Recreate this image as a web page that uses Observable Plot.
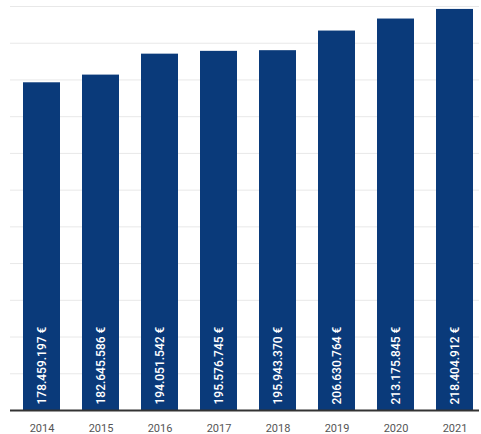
<!DOCTYPE html>
<html><head><meta charset="utf-8">
<script src="https://cdn.jsdelivr.net/npm/d3@7"></script>
<script src="https://cdn.jsdelivr.net/npm/@observablehq/plot@0.6"></script>
<style>body{margin:0;background:#fff;font-family:Roboto,"Noto Sans",sans-serif;}</style>
</head><body><div id="chart"></div>
<script>
const years = ["2014","2015","2016","2017","2018","2019","2020","2021"];
const values = [178459197,182645586,194051542,195576745,195943370,206630764,213175845,218404912];
const labels = ["178.459.197 €","182.645.586 €","194.051.542 €","195.576.745 €","195.943.370 €","206.630.764 €","213.175.845 €","218.404.912 €"];
const gridTicks = [20e6,40e6,60e6,80e6,100e6,120e6,140e6,160e6,180e6,200e6,220e6];
const data = years.map((y,i)=>({year:y, value:values[i], label:labels[i]}));
const chart = Plot.plot({
  width:481, height:434,
  marginTop:6, marginBottom:24, marginLeft:17, marginRight:2,
  style:{fontFamily:"Roboto, 'Noto Sans', sans-serif", background:"#fff"},
  x:{domain:years, padding:0.37, paddingOuter:0.1, label:null},
  y:{domain:[0,220e6], axis:null},
  marks:[
    Plot.ruleY(gridTicks, {stroke:"#e8e8e8", strokeWidth:1, insetLeft:-7}),
    Plot.barY(data, {x:"year", y:"value", fill:"#0a3a7a"}),
    Plot.text(data, {x:"year", y:0, text:"label", rotate:-90, textAnchor:"start", dy:-6, fill:"#fff", fontSize:12, fontWeight:500}),
    Plot.ruleY([0], {stroke:"#333", strokeWidth:2, insetLeft:-7}),
    Plot.axisX({tickSize:0, tickPadding:14, fontSize:11, color:"#555", label:null})
  ]
});
document.getElementById("chart").appendChild(chart);
</script></body></html>
